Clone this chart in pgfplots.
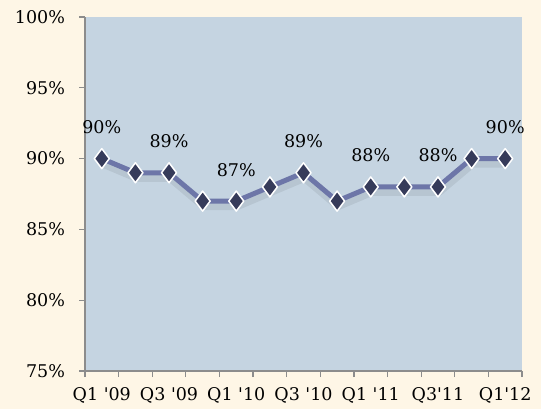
\documentclass[border=0pt]{standalone}
\usepackage{pgfplots}
\pgfplotsset{compat=1.18}
\usepackage{fontspec}
\setmainfont{DejaVu Serif}
\definecolor{bgc}{HTML}{FEF6E6}
\definecolor{plotc}{HTML}{C5D4E1}
\definecolor{linec}{HTML}{6D76A8}
\definecolor{markc}{HTML}{363B5A}
\definecolor{axc}{HTML}{8C8C8C}
\newcommand{\q}{\textquotesingle}
\newcommand{\ff}{\fontsize{17.5bp}{21bp}\selectfont}
\begin{document}
\ff
\begin{tikzpicture}
\fill[bgc] (0,0) rectangle (541bp,409bp);
\useasboundingbox (0,0) rectangle (541bp,409bp);
\begin{axis}[
  at={(85bp,38bp)}, anchor=south west,
  scale only axis, width=437bp, height=354bp,
  xmin=-0.5, xmax=12.5, ymin=75, ymax=100,
  axis lines*=left,
  axis line style={axc, line width=1.2bp},
  axis background/.style={fill=plotc},
  xtick={0,2,...,12},
  xticklabels={Q1 \q09,Q3 \q09,Q1 \q10,Q3 \q10,Q1 \q11,Q3\q11,Q1\q12},
  minor xtick={-0.5,0.5,...,12.5},
  major x tick style={draw=none},
  minor x tick style={axc, line width=1.2bp},
  minor tick length=6bp,
  ytick={75,80,...,100},
  yticklabel={\pgfmathprintnumber{\tick}\%},
  y tick style={axc, line width=1.2bp},
  major tick length=6bp,
  tick align=outside,
  /pgf/number format/assume math mode=true,
  ticklabel style={font=\ff, text=black},
  yticklabel style={xshift=-8bp},
  xticklabel style={yshift=-4bp},
  clip=false,
]
% shadow
\addplot[black, opacity=0.07, line width=8bp, line join=round, yshift=-5bp, xshift=1bp]
 coordinates {(0,90)(1,89)(2,89)(3,87)(4,87)(5,88)(6,89)(7,87)(8,88)(9,88)(10,88)(11,90)(12,90)};
\addplot[linec, line width=5bp, line join=round,
  mark=diamond*, mark size=10bp,
  mark options={fill=markc, draw=white, line width=1.5bp}]
 coordinates {(0,90)(1,89)(2,89)(3,87)(4,87)(5,88)(6,89)(7,87)(8,88)(9,88)(10,88)(11,90)(12,90)};
\addplot[draw=none, mark=none,
  nodes near coords={\pgfmathprintnumber{\pgfplotspointmeta}\%},
  point meta=explicit,
  nodes near coords style={anchor=base, yshift=25bp, font=\ff, text=black, inner sep=0pt}]
 coordinates {(0,90)[90] (2,89)[89] (4,87)[87] (6,89)[89] (8,88)[88] (10,88)[88] (12,90)[90]};
\end{axis}
\end{tikzpicture}
\end{document}
